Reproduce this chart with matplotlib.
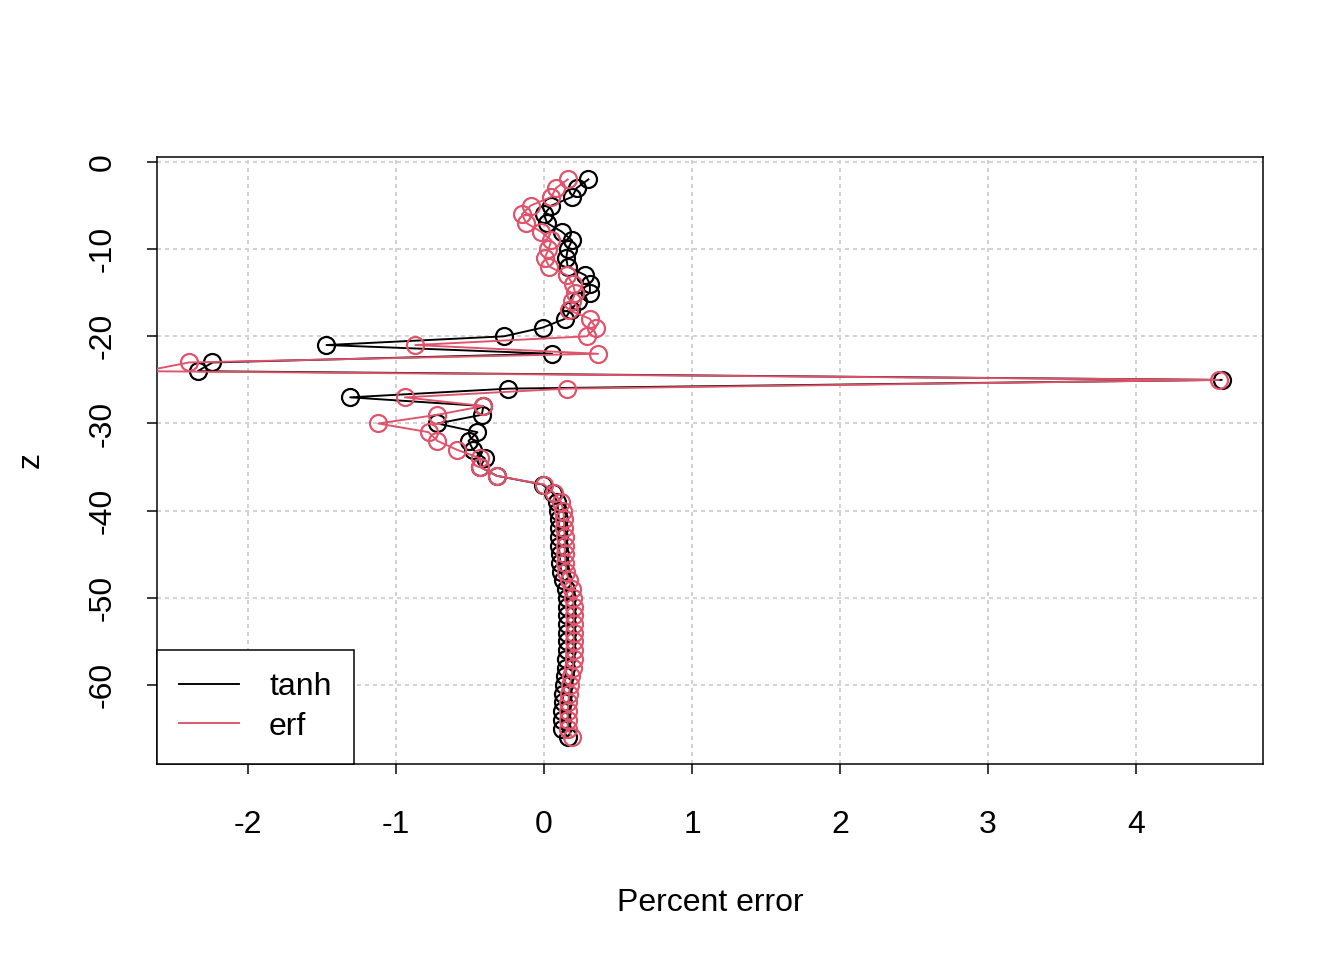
import matplotlib
matplotlib.use("Agg")
import matplotlib.pyplot as plt
from matplotlib.lines import Line2D

plt.rcParams['font.family'] = ['Liberation Sans', 'DejaVu Sans']

z = [-2, -3, -4, -5, -6, -7, -8, -9, -10, -11, -12, -13, -14, -15, -16, -17,
     -18, -19, -20, -21, -22, -23, -24, -25, -26, -27, -28, -29, -30, -31,
     -32, -33, -34, -35, -36, -37, -38, -39, -40, -41, -42, -43, -44, -45,
     -46, -47, -48, -49, -50, -51, -52, -53, -54, -55, -56, -57, -58, -59,
     -60, -61, -62, -63, -64, -65, -66]

tanh_err = [0.30, 0.22, 0.19, 0.05, 0.00, 0.02, 0.12, 0.19, 0.16, 0.15, 0.16,
            0.28, 0.31, 0.31, 0.23, 0.18, 0.14, -0.01, -0.27, -1.47, 0.055,
            -2.24, -2.34, 4.58, -0.24, -1.31, -0.41, -0.42, -0.72, -0.45,
            -0.51, -0.48, -0.40, -0.43, -0.32, -0.01,
            0.06, 0.09, 0.095, 0.10, 0.10, 0.10, 0.10, 0.105, 0.11, 0.115,
            0.13, 0.15, 0.155, 0.155, 0.155, 0.155, 0.155, 0.155, 0.155,
            0.15, 0.15, 0.145, 0.135, 0.13, 0.125, 0.12, 0.12, 0.12, 0.16]

erf_err = [0.16, 0.08, 0.05, -0.09, -0.15, -0.12, -0.02, 0.05, 0.03, 0.005,
           0.035, 0.155, 0.195, 0.21, 0.19, 0.17, 0.31, 0.35, 0.29, -0.87,
           0.365, -2.40, -2.70, 4.56, 0.155, -0.94, -0.41, -0.72, -1.12,
           -0.78, -0.72, -0.59, -0.43, -0.43, -0.32, 0.00,
           0.07, 0.115, 0.13, 0.135, 0.135, 0.14, 0.14, 0.14, 0.145, 0.15,
           0.17, 0.19, 0.195, 0.20, 0.20, 0.20, 0.20, 0.20, 0.20, 0.20,
           0.195, 0.185, 0.175, 0.17, 0.165, 0.16, 0.16, 0.16, 0.19]

x_ticks = [-2, -1, 0, 1, 2, 3, 4]
y_ticks = [0, -10, -20, -30, -40, -50, -60]
series_labels = ["tanh", "erf"]
colors = ["black", "#DF536B"]

fig = plt.figure(figsize=(1344 / 144, 960 / 144), dpi=144)
ax = fig.add_axes([157 / 1344, 1 - 764 / 960, (1263 - 157) / 1344, (764 - 157) / 960])

for xv in x_ticks:
    ax.axvline(xv, color="#D3D3D3", linestyle=(0, (2, 2)), lw=1.0, zorder=0)
for yv in y_ticks:
    ax.axhline(yv, color="#D3D3D3", linestyle=(0, (2, 2)), lw=1.0, zorder=0)

ax.plot(tanh_err, z, color=colors[0], lw=0.95, marker="o", mfc="none",
        mec=colors[0], ms=8.5, mew=1.1, zorder=2)
ax.plot(erf_err, z, color=colors[1], lw=0.95, marker="o", mfc="none",
        mec=colors[1], ms=8.5, mew=1.1, zorder=3)

ax.set_xlim(-2.615, 4.858)
ax.set_ylim(-69.06, 0.57)
ax.set_xticks(x_ticks)
ax.set_xticklabels([str(v) for v in x_ticks])
ax.set_yticks(y_ticks)
ax.set_yticklabels([str(v) for v in y_ticks], rotation=90, va="center")
ax.tick_params(direction="out", length=5, width=0.75, labelsize=16)
ax.tick_params(axis="x", pad=18)
ax.tick_params(axis="y", pad=14.5)
for s in ax.spines.values():
    s.set_linewidth(0.75)

ax.set_xlabel("Percent error", fontsize=16, labelpad=24)
ax.set_ylabel("z", fontsize=16, labelpad=21)

handles = [Line2D([], [], color=c, lw=0.95) for c in colors]
leg = ax.legend(handles, series_labels, loc="lower left", borderaxespad=0,
                fancybox=False, edgecolor="black", framealpha=1,
                fontsize=16, handlelength=1.85, handletextpad=0.95,
                labelspacing=0.3, borderpad=0.7)
leg.get_frame().set_linewidth(0.75)

fig.savefig("out.png", dpi=144)
